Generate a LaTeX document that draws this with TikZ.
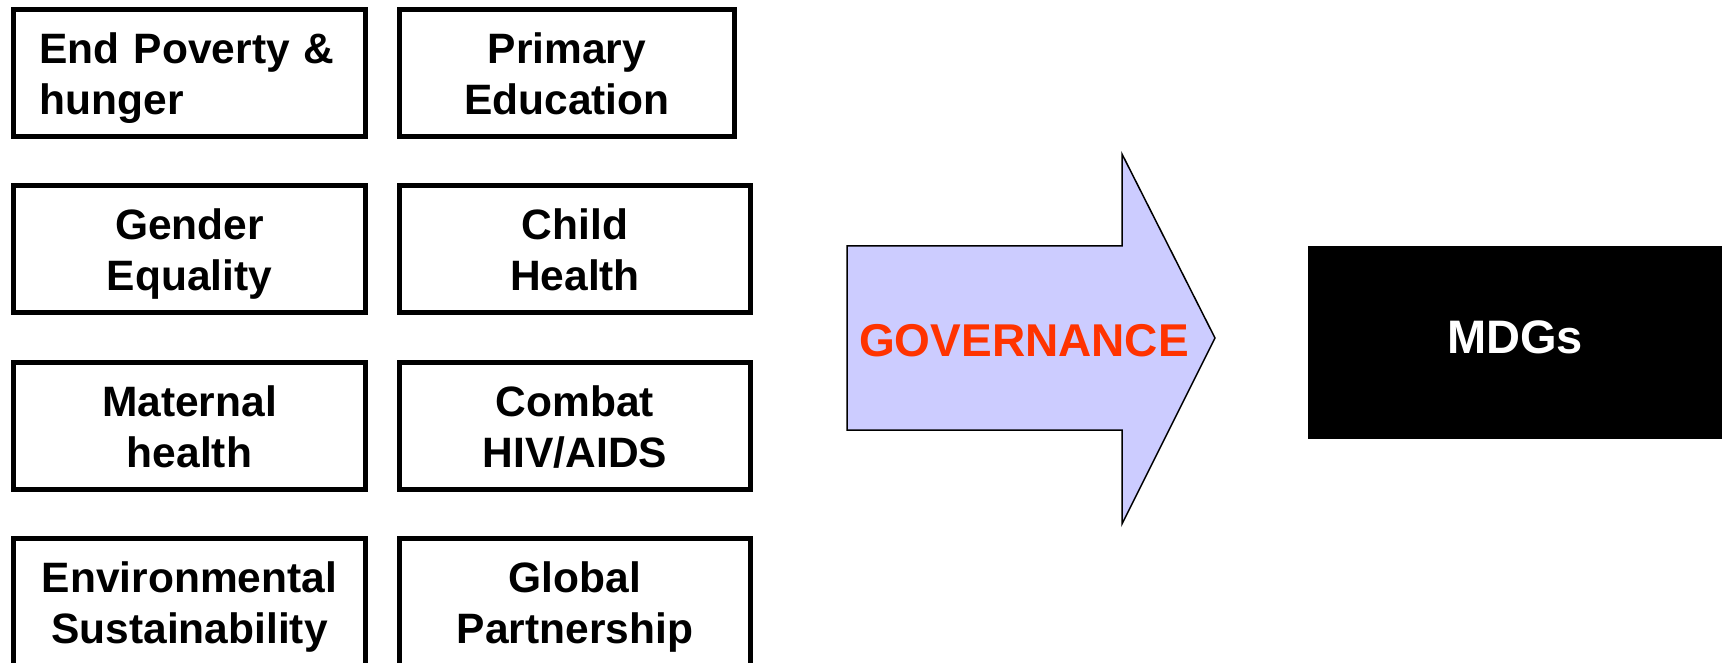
\documentclass[tikz,border=0pt]{standalone}
\usepackage{fontspec}
\setmainfont{Liberation Sans}
\definecolor{govred}{HTML}{FF3300}
\definecolor{arrowfill}{HTML}{CCCCFF}
\newcommand\twol[2]{\rule{0pt}{41pt}#1\\#2\rule[-9pt]{0pt}{9pt}}
\begin{document}
\begin{tikzpicture}[x=1pt,y=-1pt,
  goalbox/.style={draw=black, line width=5pt, fill=white, inner sep=0pt,
    minimum width=352pt, minimum height=127pt, align=center,
    font=\bfseries\fontsize{42.5}{50.5}\selectfont},
  govarrow/.style={draw=black, line width=1.5pt, fill=arrowfill, line join=miter},
  govtext/.style={font=\bfseries\fontsize{46}{55}\selectfont, text=govred, inner sep=0pt, anchor=base},
  resultbox/.style={fill=black, text=white, inner sep=0pt, minimum width=414pt, minimum height=193pt,
    text height=33pt, text depth=12pt, font=\bfseries\fontsize{47}{56}\selectfont}
]
\useasboundingbox (0,0) rectangle (1722,663);
\clip (0,0) rectangle (1722,663);
\fill[white] (0,0) rectangle (1722,663);

\node[goalbox, text width=300pt, align=left] (poverty) at (189.5,73) {\twol{End Poverty \&}{hunger}};
\node[goalbox, minimum width=335pt] (education) at (567,73) {\twol{Primary}{Education}};
\node[goalbox] (gender) at (189.5,249) {\twol{Gender}{Equality}};
\node[goalbox, minimum width=351pt] (child) at (575,249) {\twol{Child}{Health}};
\node[goalbox] (maternal) at (189.5,426) {\twol{Maternal}{health}};
\node[goalbox, minimum width=351pt] (hiv) at (575,426) {\twol{Combat}{HIV/AIDS}};
\node[goalbox] (environment) at (189.5,602) {\twol{Environmental}{Sustainability}};
\node[goalbox, minimum width=351pt] (partnership) at (575,602) {\twol{Global}{Partnership}};

\draw[govarrow] (847,246) -- (1122,246) -- (1122,154) -- (1215,338) -- (1122,524) -- (1122,430) -- (847,430) -- cycle;
\node[govtext] (governance) at (1024,356) {GOVERNANCE};

\node[resultbox] (mdgs) at (1515,342.5) {MDGs};
\end{tikzpicture}
\end{document}
